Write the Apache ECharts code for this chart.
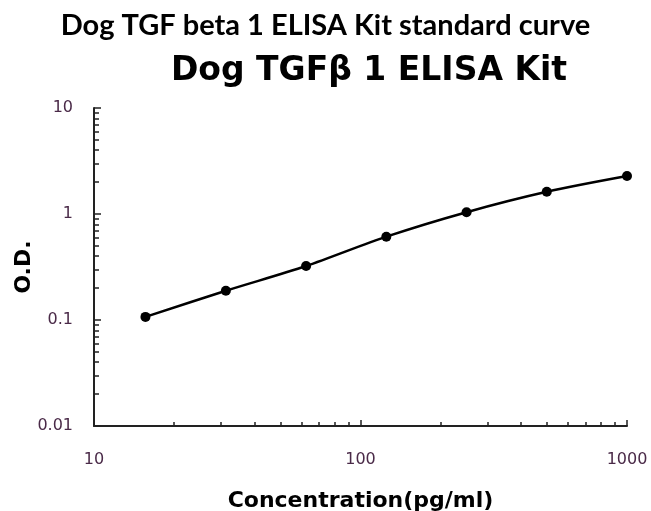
<!DOCTYPE html>
<html>
<head>
<meta charset="utf-8">
<script src="https://cdn.jsdelivr.net/npm/echarts@6/dist/echarts.min.js"></script>
<style>
html,body{margin:0;padding:0;background:#fff;}
#chart{width:651px;height:511px;}
</style>
</head>
<body>
<div id="chart"></div>
<script>
var concentrations = [15.6, 31.25, 62.5, 125, 250, 500, 1000];
var odValues = [0.107, 0.189, 0.323, 0.611, 1.04, 1.62, 2.28];
var xMajorTicks = [10, 100, 1000];
var xMinorTicks = [20, 30, 40, 50, 60, 70, 80, 90, 200, 300, 400, 500, 600, 700, 800, 900];
var yMajorTicks = [0.01, 0.1, 1, 10];
var yMinorTicks = [0.02, 0.03, 0.04, 0.05, 0.06, 0.07, 0.08, 0.09, 0.2, 0.3, 0.4, 0.5, 0.6, 0.7, 0.8, 0.9, 2, 3, 4, 5, 6, 7, 8, 9];
var mainTitle = 'Dog TGF beta 1 ELISA Kit standard curve';
var subTitle = 'Dog TGF\u03b2 1 ELISA Kit';
var xName = 'Concentration(pg/ml)';
var yName = 'O.D.';

var points = concentrations.map(function (c, i) { return [c, odValues[i]]; });
var labelColor = '#4a2a48';
var axisColor = '#222';
function plainLabel(v) { return String(v); }

var chart = echarts.init(document.getElementById('chart'), null, {renderer: 'canvas'});
chart.setOption({
  animation: false,
  backgroundColor: '#fff',
  title: [
    {text: mainTitle, left: 'center', top: 6,
     textStyle: {fontFamily: 'Lato', fontWeight: 'bold', fontSize: 29, color: '#000'}},
    {text: subTitle, left: 364, textAlign: 'center', top: 50,
     textStyle: {fontFamily: 'DejaVu Sans', fontWeight: 'bold', fontSize: 33, color: '#000'}}
  ],
  grid: {left: 94, right: 24, top: 108, bottom: 85, containLabel: false, outerBoundsMode: 'none'},
  xAxis: [
    {type: 'log', logBase: 10, min: 10, max: 1000, position: 'bottom',
     name: xName, nameLocation: 'middle', nameGap: 64,
     nameTextStyle: {fontFamily: 'DejaVu Sans', fontWeight: 'bold', fontSize: 22, color: '#000'},
     axisLine: {show: true, lineStyle: {color: axisColor, width: 2}},
     axisTick: {show: true, inside: true, length: 6, lineStyle: {color: axisColor, width: 1.5}, customValues: xMajorTicks},
     axisLabel: {show: true, margin: 26, fontFamily: 'DejaVu Sans', fontSize: 16, color: labelColor, customValues: xMajorTicks, formatter: plainLabel},
     splitLine: {show: false}},
    {type: 'log', logBase: 10, min: 10, max: 1000, position: 'bottom', gridIndex: 0,
     axisLine: {show: false},
     axisTick: {show: true, inside: true, length: 4, lineStyle: {color: axisColor, width: 1.5}, customValues: xMinorTicks},
     axisLabel: {show: false},
     splitLine: {show: false}}
  ],
  yAxis: [
    {type: 'log', logBase: 10, min: 0.01, max: 10, position: 'left',
     name: yName, nameLocation: 'middle', nameGap: 59, nameRotate: 90, nameMoveOverlap: false,
     nameTextStyle: {fontFamily: 'DejaVu Sans', fontWeight: 'bold', fontSize: 22, color: '#000'},
     axisLine: {show: true, lineStyle: {color: axisColor, width: 2}},
     axisTick: {show: true, inside: true, length: 7, lineStyle: {color: axisColor, width: 1.5}, customValues: yMajorTicks},
     axisLabel: {show: true, margin: 21, fontFamily: 'DejaVu Sans', fontSize: 16, color: labelColor, customValues: yMajorTicks, formatter: plainLabel},
     splitLine: {show: false}},
    {type: 'log', logBase: 10, min: 0.01, max: 10, position: 'left', gridIndex: 0,
     axisLine: {show: false},
     axisTick: {show: true, inside: true, length: 5, lineStyle: {color: axisColor, width: 1.5}, customValues: yMinorTicks},
     axisLabel: {show: false},
     splitLine: {show: false}}
  ],
  series: [{
    type: 'line',
    xAxisIndex: 0, yAxisIndex: 0,
    data: points,
    smooth: 0.3,
    symbol: 'circle',
    symbolSize: 10,
    itemStyle: {color: '#000'},
    lineStyle: {color: '#000', width: 2.5}
  }]
});
</script>
</body>
</html>
